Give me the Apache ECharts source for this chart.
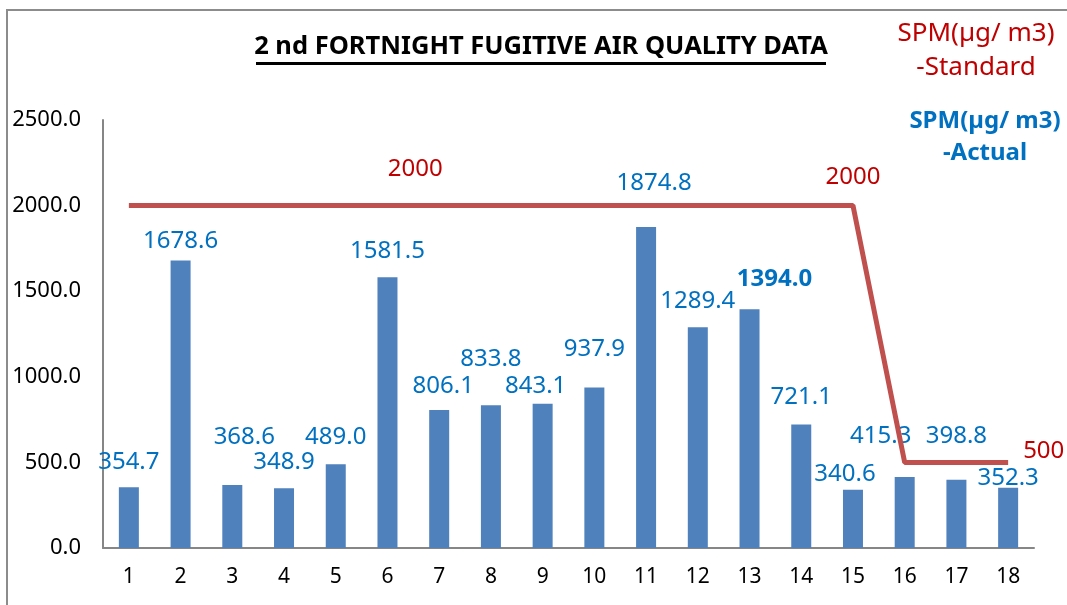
<!DOCTYPE html>
<html>
<head>
<meta charset="utf-8">
<script src="https://cdn.jsdelivr.net/npm/echarts@6/dist/echarts.min.js"></script>
<style>
html,body{margin:0;padding:0;background:#fff;}
#chart{width:1067px;height:605px;}
</style>
</head>
<body>
<div id="chart"></div>
<script>
const categories = ['1','2','3','4','5','6','7','8','9','10','11','12','13','14','15','16','17','18'];
const actualValues = [354.7,1678.6,368.6,348.9,489.0,1581.5,806.1,833.8,843.1,937.9,1874.8,1289.4,1394.0,721.1,340.6,415.3,398.8,352.3];
const standardValues = [2000,2000,2000,2000,2000,2000,2000,2000,2000,2000,2000,2000,2000,2000,2000,500,500,500];
const yTicks = [0,500,1000,1500,2000,2500];
const titleText = '2 nd FORTNIGHT FUGITIVE AIR QUALITY DATA';
const standardName = 'SPM(µg/ m3)\n-Standard';
const actualName = 'SPM(µg/ m3)\n-Actual';

// label placement nudges (style only)
const barLabelNudge = [[0,-8],[0,-2],[12,-31],[0,-9],[0,-10],[0,-9],[4,-7],[0,-29],[-7,-1],[0,-21],[8,-27],[0,-9],[25,-13],[0,-10],[-8,1],[-24,-24],[0,-27],[0,7]];
const FONT = 'Noto Sans';

const chart = echarts.init(document.getElementById('chart'), null, {renderer:'canvas'});

const barData = actualValues.map((v,i) => {
  const n = barLabelNudge[i];
  const item = {value: v, label: {offset: n}};
  if (i === 12) item.label.fontWeight = 'bold';
  return item;
});

const lineLabelIdx = {6: {show:true, position:'top', offset:[-24,-19]}, 14: {show:true, position:'top', offset:[0,-11]}, 17: {show:true, position:'right', offset:[10,-11]}};
const lineData = standardValues.map((v,i) => {
  const item = {value: v};
  if (lineLabelIdx[i]) item.label = lineLabelIdx[i];
  return item;
});

const option = {
  backgroundColor: '#ffffff',
  animation: false,
  textStyle: {fontFamily: FONT},
  grid: {left: 103, right: 33, top: 120, bottom: 57, containLabel: false},
  xAxis: {
    type: 'category',
    data: categories,
    axisLine: {lineStyle: {color: '#868686', width: 2}},
    axisTick: {show: false},
    axisLabel: {color: '#000', fontSize: 21, margin: 19, fontFamily: FONT}
  },
  yAxis: {
    type: 'value',
    min: yTicks[0],
    max: yTicks[yTicks.length-1],
    interval: yTicks[1]-yTicks[0],
    splitLine: {show: false},
    axisLine: {show: true, lineStyle: {color: '#868686', width: 2}},
    axisTick: {show: false},
    axisLabel: {color: '#000', fontSize: 22, margin: 22, fontFamily: FONT, formatter: v => v.toFixed(1)}
  },
  series: [
    {
      name: 'SPM(µg/ m3) -Actual',
      type: 'bar',
      data: barData,
      barWidth: 20,
      itemStyle: {color: '#4f81bd'},
      label: {show: true, position: 'top', distance: 5, color: '#0070c0', fontSize: 24, fontFamily: FONT, formatter: p => p.value.toFixed(1)}
    },
    {
      name: 'SPM(µg/ m3) -Standard',
      type: 'line',
      data: lineData,
      symbol: 'circle',
      symbolSize: 0,
      showSymbol: true,
      lineStyle: {color: '#c0504d', width: 5},
      itemStyle: {color: '#c0504d'},
      label: {show: false, color: '#c00000', fontSize: 24, fontFamily: FONT, distance: 5, formatter: p => String(p.value)},
      z: 3
    }
  ],
  graphic: [
    {type: 'rect', shape: {x: 7, y: 10, width: 1100, height: 700}, style: {fill: 'none', stroke: '#8c8c8c', lineWidth: 2}, silent: true},
    {type: 'text', x: 541, y: 47, style: {text: titleText, font: 'bold 25.5px "' + FONT + '"', fill: '#000', textAlign: 'center', textVerticalAlign: 'middle'}},
    {type: 'rect', shape: {x: 256, y: 62, width: 570, height: 3}, style: {fill: '#000'}},
    {type: 'text', x: 976, y: 51, style: {text: standardName, font: '26px "' + FONT + '"', fill: '#c00000', textAlign: 'center', textVerticalAlign: 'middle', lineHeight: 34}},
    {type: 'text', x: 985, y: 137, style: {text: actualName, font: 'bold 24px "' + FONT + '"', fill: '#0070c0', textAlign: 'center', textVerticalAlign: 'middle', lineHeight: 32}}
  ]
};
chart.setOption(option);
</script>
</body>
</html>
